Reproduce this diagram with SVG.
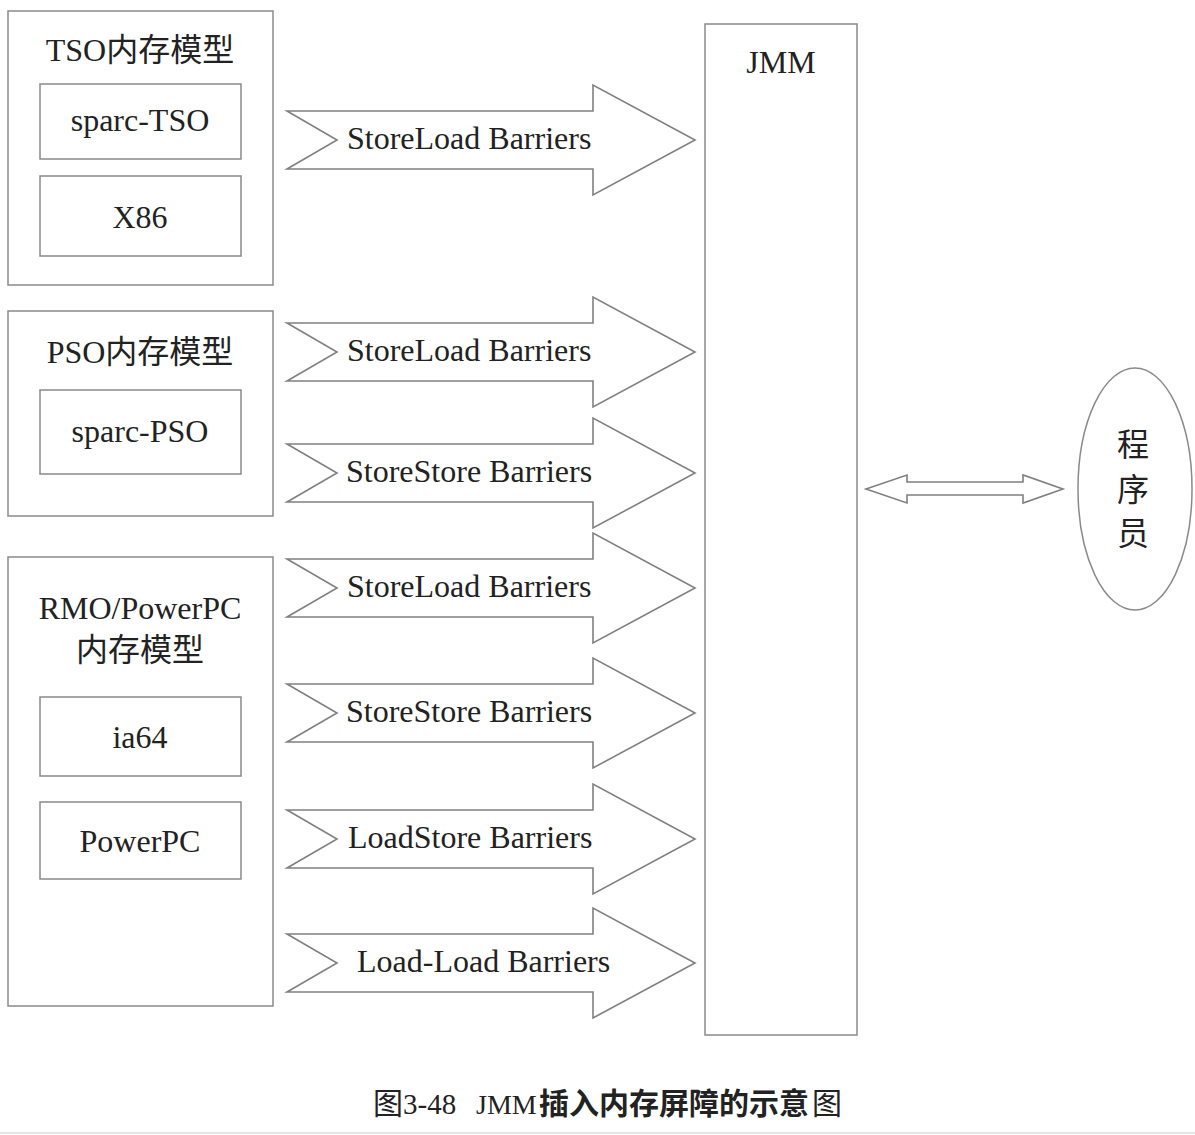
<svg xmlns="http://www.w3.org/2000/svg" width="1195" height="1135" viewBox="0 0 1195 1135">
<style>
.box{fill:#fff;stroke:#8a8a8a;stroke-width:1.5}
.arr{fill:#fff;stroke:#808080;stroke-width:1.6;stroke-linejoin:miter}
.t{font-family:"Liberation Serif","Noto Sans CJK SC",serif;font-size:32px;fill:#222}
.c{text-anchor:middle}
</style>
<defs>
<polygon id="barr" points="287,-29 593,-29 593,-55 695,0 593,55 593,29 287,29 337,0"/>
</defs>
<rect width="1195" height="1135" fill="#fff"/>
<g id="tso">
<rect class="box" x="8" y="11" width="265" height="274"/>
<text class="t c" x="140" y="61">TSO内存模型</text>
<g id="sparc-tso"><rect class="box" x="40" y="84" width="201" height="75"/><text class="t c" x="140" y="131">sparc-TSO</text></g>
<g id="x86"><rect class="box" x="40" y="176" width="201" height="80"/><text class="t c" x="140" y="228">X86</text></g>
</g>
<g id="pso">
<rect class="box" x="8" y="311" width="265" height="205"/>
<text class="t c" x="140" y="363">PSO内存模型</text>
<g id="sparc-pso"><rect class="box" x="40" y="390" width="201" height="84"/><text class="t c" x="140" y="442">sparc-PSO</text></g>
</g>
<g id="rmo">
<rect class="box" x="8" y="557" width="265" height="449"/>
<text class="t c" x="140" y="619">RMO/PowerPC</text>
<text class="t c" x="140" y="661">内存模型</text>
<g id="ia64"><rect class="box" x="40" y="697" width="201" height="79"/><text class="t c" x="140" y="748">ia64</text></g>
<g id="powerpc"><rect class="box" x="40" y="802" width="201" height="77"/><text class="t c" x="140" y="852">PowerPC</text></g>
</g>
<g id="jmm">
<rect class="box" x="705" y="24" width="152" height="1011"/>
<text class="t c" x="781" y="73">JMM</text>
</g>
<g id="programmer">
<ellipse class="box" cx="1135" cy="489" rx="57" ry="121"/>
<text class="t c" x="1133" y="456">程</text>
<text class="t c" x="1133" y="501">序</text>
<text class="t c" x="1133" y="545">员</text>
</g>
<g id="connectors">
<g id="a1"><use href="#barr" class="arr" transform="translate(0,140)"/><text class="t" x="347" y="149">StoreLoad Barriers</text></g>
<g id="a2"><use href="#barr" class="arr" transform="translate(0,352)"/><text class="t" x="347" y="361">StoreLoad Barriers</text></g>
<g id="a3"><use href="#barr" class="arr" transform="translate(0,473)"/><text class="t" x="346" y="482">StoreStore Barriers</text></g>
<g id="a4"><use href="#barr" class="arr" transform="translate(0,588)"/><text class="t" x="347" y="597">StoreLoad Barriers</text></g>
<g id="a5"><use href="#barr" class="arr" transform="translate(0,713)"/><text class="t" x="346" y="722">StoreStore Barriers</text></g>
<g id="a6"><use href="#barr" class="arr" transform="translate(0,839)"/><text class="t" x="348" y="848">LoadStore Barriers</text></g>
<g id="a7"><use href="#barr" class="arr" transform="translate(0,963)"/><text class="t" x="357" y="972">Load-Load Barriers</text></g>
<polygon id="dbl" class="arr" points="866,489 907,475 907,482 1023,482 1023,475 1063,489 1023,503 1023,495 907,495 907,503"/>
</g>
<text font-family="Liberation Serif,'Noto Sans CJK SC',serif" font-size="29" fill="#222" y="1114"><tspan x="373" font-size="30">图</tspan><tspan x="403">3-48</tspan><tspan x="476" font-size="28">JMM</tspan><tspan x="539" font-size="30" font-family="'Noto Sans CJK SC',sans-serif" font-weight="bold">插入内存屏障的示意</tspan><tspan x="812" font-size="30">图</tspan></text>
<line x1="0" y1="1133" x2="1195" y2="1133" stroke="#e6e6e6" stroke-width="2"/>
</svg>
